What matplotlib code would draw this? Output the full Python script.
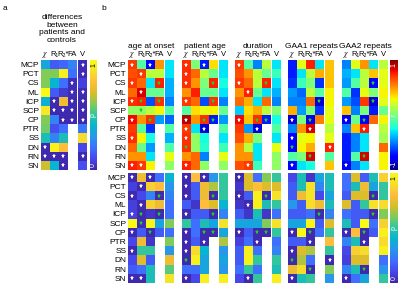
import numpy as np
import matplotlib.pyplot as plt
from matplotlib.colors import LinearSegmentedColormap

plt.rcParams['font.family'] = ['Liberation Sans', 'DejaVu Sans']
plt.rcParams['mathtext.fontset'] = 'stix'

nan = np.nan
regions = ['MCP', 'PCT', 'CS', 'ML', 'ICP', 'SCP', 'CP', 'PTR', 'SS', 'DN', 'RN', 'SN']
measures = [r'$\chi$', 'R\u2081', 'R\u2082*', 'FA', 'V']
titles = ['age at onset', 'patient age', 'duration', 'GAA1 repeats', 'GAA2 repeats']

# panel a: p values patients vs controls
diff_p = [
    [0.35, 0.15, 0.18, 0.25, 0.02],
    [0.60, 0.60, 0.95, 0.20, 0.02],
    [0.60, 0.40, 0.20, 0.02, 0.08],
    [1.00, 0.15, 0.06, 0.02, 0.02],
    [0.38, 0.01, 0.75, 0.01, 0.01],
    [0.92, 0.01, 0.01, 0.01, 0.01],
    [0.60, 0.25, 0.01, 0.01, 0.01],
    [0.58, 0.12, 0.20, nan, 0.22],
    [0.45, 0.25, 0.45, nan, 0.88],
    [0.01, 0.97, 0.80, nan, 0.10],
    [0.01, 0.01, 0.01, nan, 0.01],
    [0.68, 0.40, 0.01, nan, 0.12],
]
diff_sig = [
    [0, 0, 0, 0, 1],
    [0, 0, 0, 0, 1],
    [0, 0, 0, 1, 0],
    [0, 0, 0, 1, 1],
    [0, 1, 0, 1, 1],
    [0, 1, 1, 1, 1],
    [0, 0, 1, 1, 1],
    [0, 0, 0, 0, 0],
    [0, 0, 0, 0, 0],
    [1, 0, 0, 0, 0],
    [1, 1, 1, 0, 1],
    [0, 0, 1, 0, 0],
]

# panel b: correlation coefficients r
onset_r = [
    [0.70, -0.10, -0.75, 0.50, -0.30],
    [0.65, 0.70, 0.15, 0.15, -0.30],
    [0.70, 0.60, -0.30, 0.75, -0.40],
    [0.60, 0.85, -0.05, -0.05, -0.40],
    [0.72, 0.75, -0.60, 0.72, -0.50],
    [0.05, 0.05, 0.15, 0.30, -0.10],
    [0.80, 0.50, 0.72, -0.45, -0.55],
    [0.70, -0.10, -0.65, nan, -0.10],
    [0.72, 0.30, -0.25, nan, -0.40],
    [0.60, -0.05, -0.45, nan, -0.10],
    [0.50, 0.50, -0.30, nan, 0.25],
    [0.75, 0.70, 0.30, nan, 0.05],
]
age_r = [
    [0.72, 0.00, -0.70, 0.35, -0.30],
    [0.72, 0.60, 0.15, -0.05, -0.30],
    [0.72, 0.50, 0.00, 0.75, -0.25],
    [0.50, 0.75, -0.05, -0.05, -0.30],
    [0.70, 0.60, -0.60, 0.72, -0.50],
    [-0.10, 0.35, 0.25, 0.30, -0.05],
    [0.90, 0.50, 0.72, -0.70, -0.45],
    [0.70, -0.30, -0.85, nan, -0.10],
    [0.72, 0.05, -0.25, nan, -0.30],
    [0.72, 0.05, -0.20, nan, -0.15],
    [0.50, 0.60, -0.50, nan, 0.25],
    [0.75, 0.60, 0.05, nan, 0.05],
]
dur_r = [
    [0.70, -0.10, -0.50, 0.15, -0.30],
    [0.65, 0.50, 0.15, -0.05, -0.15],
    [0.70, 0.60, 0.15, 0.75, -0.30],
    [0.50, 0.75, -0.05, -0.30, -0.40],
    [0.60, 0.45, -0.30, 0.60, -0.50],
    [-0.35, 0.35, 0.45, 0.15, 0.00],
    [0.80, 0.40, 0.72, -0.70, -0.25],
    [0.70, -0.45, -0.85, nan, -0.10],
    [0.65, 0.45, 0.00, nan, -0.30],
    [0.50, 0.15, -0.30, nan, 0.25],
    [0.50, 0.50, -0.30, nan, 0.05],
    [0.65, 0.70, -0.15, nan, 0.05],
]
gaa1_r = [
    [-0.70, 0.25, 0.75, -0.30, 0.40],
    [-0.70, -0.30, 0.15, 0.45, 0.40],
    [-0.65, -0.15, 0.00, -0.65, 0.40],
    [-0.45, -0.55, 0.15, -0.10, 0.30],
    [-0.50, -0.50, 0.60, -0.85, 0.30],
    [0.45, -0.45, 0.00, -0.65, 0.25],
    [-0.85, 0.00, -0.80, 0.55, 0.25],
    [-0.50, 0.50, 0.85, nan, 0.15],
    [-0.75, 0.25, 0.30, nan, 0.25],
    [-0.75, 0.30, 0.45, nan, 0.75],
    [-0.10, 0.00, 0.85, nan, -0.10],
    [-0.75, -0.30, -0.25, nan, 0.40],
]
gaa2_r = [
    [-0.50, 0.25, 0.50, -0.30, 0.15],
    [-0.40, -0.30, 0.15, 0.40, 0.25],
    [-0.45, -0.10, 0.15, -0.75, 0.25],
    [-0.10, -0.65, 0.25, 0.00, 0.30],
    [-0.45, -0.60, 0.70, -0.85, 0.25],
    [0.40, -0.50, 0.00, -0.70, -0.05],
    [-0.80, -0.05, -0.75, 0.60, 0.30],
    [-0.50, 0.40, 0.75, nan, 0.15],
    [-0.70, -0.50, -0.30, nan, 0.10],
    [-0.70, -0.50, -0.30, nan, 0.60],
    [-0.70, -0.10, 0.85, nan, 0.30],
    [-0.80, -0.50, -0.30, nan, 0.30],
]

# panel b: p values of the correlations
onset_p = [
    [0.01, 0.75, 0.01, 0.20, 0.40],
    [0.08, 0.01, 0.85, 0.80, 0.30],
    [0.01, 0.10, 0.25, 0.01, 0.25],
    [0.08, 0.01, 0.85, 0.75, 0.20],
    [0.08, 0.01, 0.05, 0.01, 0.20],
    [1.00, 0.02, 0.98, 0.35, 0.60],
    [0.01, 0.15, 0.01, 0.15, 0.20],
    [0.10, 0.75, 0.05, nan, 0.60],
    [0.01, 0.50, 0.50, nan, 0.30],
    [0.10, 0.70, 0.15, nan, 0.75],
    [0.15, 0.20, 0.45, nan, 0.55],
    [0.01, 0.01, 0.45, nan, 0.90],
]
age_p = [
    [0.01, 0.80, 0.01, 0.30, 0.50],
    [0.01, 0.15, 0.75, 0.65, 0.50],
    [0.01, 0.15, 0.75, 0.01, 0.50],
    [0.15, 0.05, 0.80, 0.70, 0.40],
    [0.01, 0.15, 0.15, 0.01, 0.25],
    [0.50, 0.20, 0.45, 0.35, 0.90],
    [0.01, 0.20, 0.01, 0.01, 0.35],
    [0.01, 0.15, 0.01, nan, 0.65],
    [0.01, 0.88, 0.40, nan, 0.30],
    [0.01, 0.95, 0.35, nan, 0.35],
    [0.20, 0.20, 0.35, nan, 0.30],
    [0.01, 0.10, 0.95, nan, 0.95],
]
dur_p = [
    [0.01, 0.70, 0.20, 0.60, 0.50],
    [0.05, 0.70, 0.80, 0.70, 0.70],
    [0.01, 0.15, 0.95, 0.01, 0.90],
    [0.05, 0.01, 0.95, 0.45, 0.50],
    [0.15, 0.05, 0.45, 0.05, 0.20],
    [0.35, 0.35, 0.35, 0.60, 0.90],
    [0.01, 0.15, 0.01, 0.01, 0.50],
    [0.08, 0.20, 0.01, nan, 0.20],
    [0.15, 0.95, 0.20, nan, 0.25],
    [0.15, 0.95, 0.50, nan, 0.50],
    [0.20, 0.50, 0.20, nan, 0.45],
    [0.10, 0.01, 0.50, nan, 0.95],
]
gaa1_p = [
    [0.10, 0.45, 0.05, 0.35, 0.45],
    [0.15, 0.45, 0.90, 0.25, 0.45],
    [0.15, 0.75, 0.90, 0.10, 0.35],
    [0.30, 0.15, 0.88, 0.75, 0.45],
    [0.15, 0.15, 0.20, 0.01, 0.25],
    [0.35, 0.35, 0.98, 0.15, 0.70],
    [0.01, 1.00, 0.01, 0.20, 0.50],
    [0.15, 0.15, 0.01, nan, 0.80],
    [0.01, 0.70, 0.65, nan, 0.50],
    [0.01, 0.65, 0.20, nan, 0.01],
    [0.75, 0.88, 0.01, nan, 0.60],
    [0.01, 0.45, 0.50, nan, 0.30],
]
gaa2_p = [
    [0.20, 0.70, 0.15, 0.45, 0.85],
    [0.20, 0.45, 0.75, 0.35, 0.50],
    [0.15, 0.70, 0.70, 0.01, 0.50],
    [0.70, 0.15, 0.50, 0.90, 0.88],
    [0.20, 0.15, 0.15, 0.01, 0.60],
    [0.45, 0.15, 1.00, 0.20, 0.85],
    [0.01, 0.80, 0.01, 0.15, 0.95],
    [0.25, 0.45, 0.01, nan, 0.88],
    [0.10, 0.85, 0.88, nan, 0.95],
    [0.08, 0.70, 0.70, nan, 0.20],
    [0.25, 0.45, 0.01, nan, 0.30],
    [0.01, 0.20, 0.35, nan, 0.50],
]

# significance markers: 1 = white star, 2 = green star
onset_sig = [[1, 0, 1, 0, 0], [0, 1, 0, 0, 0], [1, 0, 0, 2, 0], [0, 1, 0, 0, 0],
             [1, 2, 0, 2, 0], [0, 2, 0, 0, 0], [1, 0, 2, 0, 0], [0, 0, 0, 0, 0],
             [1, 0, 0, 0, 0], [0, 0, 0, 0, 0], [0, 0, 0, 0, 0], [1, 1, 0, 0, 0]]
age_sig = [[1, 0, 1, 0, 0], [1, 0, 0, 0, 0], [1, 0, 0, 2, 0], [0, 0, 0, 0, 0],
           [1, 0, 0, 2, 0], [0, 0, 0, 0, 0], [1, 0, 2, 2, 0], [1, 0, 1, 0, 0],
           [1, 0, 0, 0, 0], [2, 0, 0, 0, 0], [0, 0, 0, 0, 0], [1, 0, 0, 0, 0]]
dur_sig = [[1, 0, 0, 0, 0], [0, 0, 0, 0, 0], [1, 0, 0, 2, 0], [0, 1, 0, 0, 0],
           [0, 0, 0, 0, 0], [0, 0, 0, 0, 0], [1, 0, 2, 2, 0], [0, 0, 1, 0, 0],
           [0, 0, 0, 0, 0], [0, 0, 0, 0, 0], [0, 0, 0, 0, 0], [0, 1, 0, 0, 0]]
gaa1_sig = [[0, 0, 0, 0, 0], [0, 0, 0, 0, 0], [0, 0, 0, 0, 0], [0, 0, 0, 0, 0],
            [0, 0, 0, 2, 0], [0, 0, 0, 0, 0], [1, 0, 2, 0, 0], [0, 0, 1, 0, 0],
            [1, 0, 0, 0, 0], [2, 0, 0, 0, 1], [0, 0, 2, 0, 0], [1, 0, 0, 0, 0]]
gaa2_sig = [[0, 0, 0, 0, 0], [0, 0, 0, 0, 0], [0, 0, 0, 2, 0], [0, 0, 0, 0, 0],
            [0, 0, 0, 2, 0], [0, 0, 0, 0, 0], [1, 0, 2, 0, 0], [0, 0, 1, 0, 0],
            [0, 0, 0, 0, 0], [0, 0, 0, 0, 0], [0, 0, 2, 0, 0], [1, 0, 0, 0, 0]]

r_sets = [onset_r, age_r, dur_r, gaa1_r, gaa2_r]
p_sets = [onset_p, age_p, dur_p, gaa1_p, gaa2_p]
sig_sets = [onset_sig, age_sig, dur_sig, gaa1_sig, gaa2_sig]

# MATLAB-like parula
parula = LinearSegmentedColormap.from_list('parula', [
    (0.2422, 0.1504, 0.6603), (0.2803, 0.2782, 0.9221), (0.2440, 0.4358, 0.9988),
    (0.1540, 0.5902, 0.9218), (0.0297, 0.7082, 0.8163), (0.1938, 0.7758, 0.6251),
    (0.5044, 0.7993, 0.3480), (0.8634, 0.7406, 0.1596), (0.9956, 0.7434, 0.2371),
    (0.9610, 0.8890, 0.1537), (0.9769, 0.9839, 0.0805)])
jet = plt.get_cmap('jet')

W, H = 400, 289
fig = plt.figure(figsize=(W / 100, H / 100), dpi=100)

def rect(x0, y0, x1, y1):
    return [x0 / W, 1 - y1 / H, (x1 - x0) / W, (y1 - y0) / H]

xe = np.array([0, 1, 2, 3, 4, 4.15, 5.15])
xc = np.array([0.5, 1.5, 2.5, 3.5, 4.65])

def draw_map(box, vals, sig, cmap, vmin, vmax, rows=False, cols=False):
    ax = fig.add_axes(rect(*box))
    v = np.insert(np.array(vals, float), 4, nan, axis=1)
    ax.pcolormesh(xe, np.arange(13), np.ma.masked_invalid(v), cmap=cmap,
                  vmin=vmin, vmax=vmax)
    ax.set_xlim(0, xe[-1])
    ax.set_ylim(12, 0)
    s = np.array(sig)
    for code, col in ((1, 'white'), (2, '#22cc22')):
        rr, cc = np.nonzero(s == code)
        ax.plot(xc[cc], rr + 0.5, '*', color=col, ms=3.6, mew=0, ls='none')
    for sp in ax.spines.values():
        sp.set_visible(False)
    ax.tick_params(length=0, pad=1.2, labelsize=6)
    ax.set_xticks([])
    if cols:
        for x, m in zip(xc, measures):
            ax.text(x, -0.4, m, ha='center', va='baseline', fontsize=5.5)
    if rows:
        ax.set_yticks(np.arange(12) + 0.5, regions)
    else:
        ax.set_yticks([])
    return ax

def draw_cbar(box, cmap, top, mid, bot, cols):
    ax = fig.add_axes(rect(*box))
    ax.imshow(np.linspace(1, 0, 256)[:, None], cmap=cmap, aspect='auto',
              extent=(0, 1, 0, 1))
    ax.set_xticks([])
    ax.set_yticks([])
    for sp in ax.spines.values():
        sp.set_visible(False)
    for y, t, c in ((0.97, top, cols[0]), (0.5, mid, cols[1]), (0.03, bot, cols[2])):
        ax.text(0.5, y, t, rotation=90, ha='center',
                va='top' if y > 0.9 else ('bottom' if y < 0.1 else 'center'),
                fontsize=5, color=c, transform=ax.transAxes)

# panel a
draw_map((41, 60, 87, 170), diff_p, diff_sig, parula, 0, 1, rows=True, cols=True)
draw_cbar((90, 60, 97, 170), parula, '1', 'p', '0', ('black', 'white', 'white'))
fig.text(62 / W, 1 - 29 / H, 'differences\nbetween\npatients and\ncontrols',
         ha='center', va='center', fontsize=6, linespacing=1.15)

# panel b
lefts = [128, 182, 235, 288, 342]
for k, x0 in enumerate(lefts):
    draw_map((x0, 60, x0 + 46, 170), r_sets[k], sig_sets[k], jet, -1, 1,
             rows=(k == 0), cols=True)
    draw_map((x0, 172.5, x0 + 46, 283), p_sets[k], sig_sets[k], parula, 0, 1,
             rows=(k == 0))
    fig.text((x0 + 23) / W, 1 - 47.5 / H, titles[k], ha='center', va='baseline',
             fontsize=6)
draw_cbar((390, 60, 398, 170), jet, '1', 'r', '-1', ('white', 'white', 'white'))
draw_cbar((390, 172.5, 398, 283), parula, '1', 'p', '0', ('black', 'white', 'white'))

fig.text(3 / W, 1 - 8 / H, 'a', ha='left', va='center', fontsize=6)
fig.text(101 / W, 1 - 8 / H, 'b', ha='left', va='center', fontsize=6)

fig.savefig('out.png', dpi=100)
